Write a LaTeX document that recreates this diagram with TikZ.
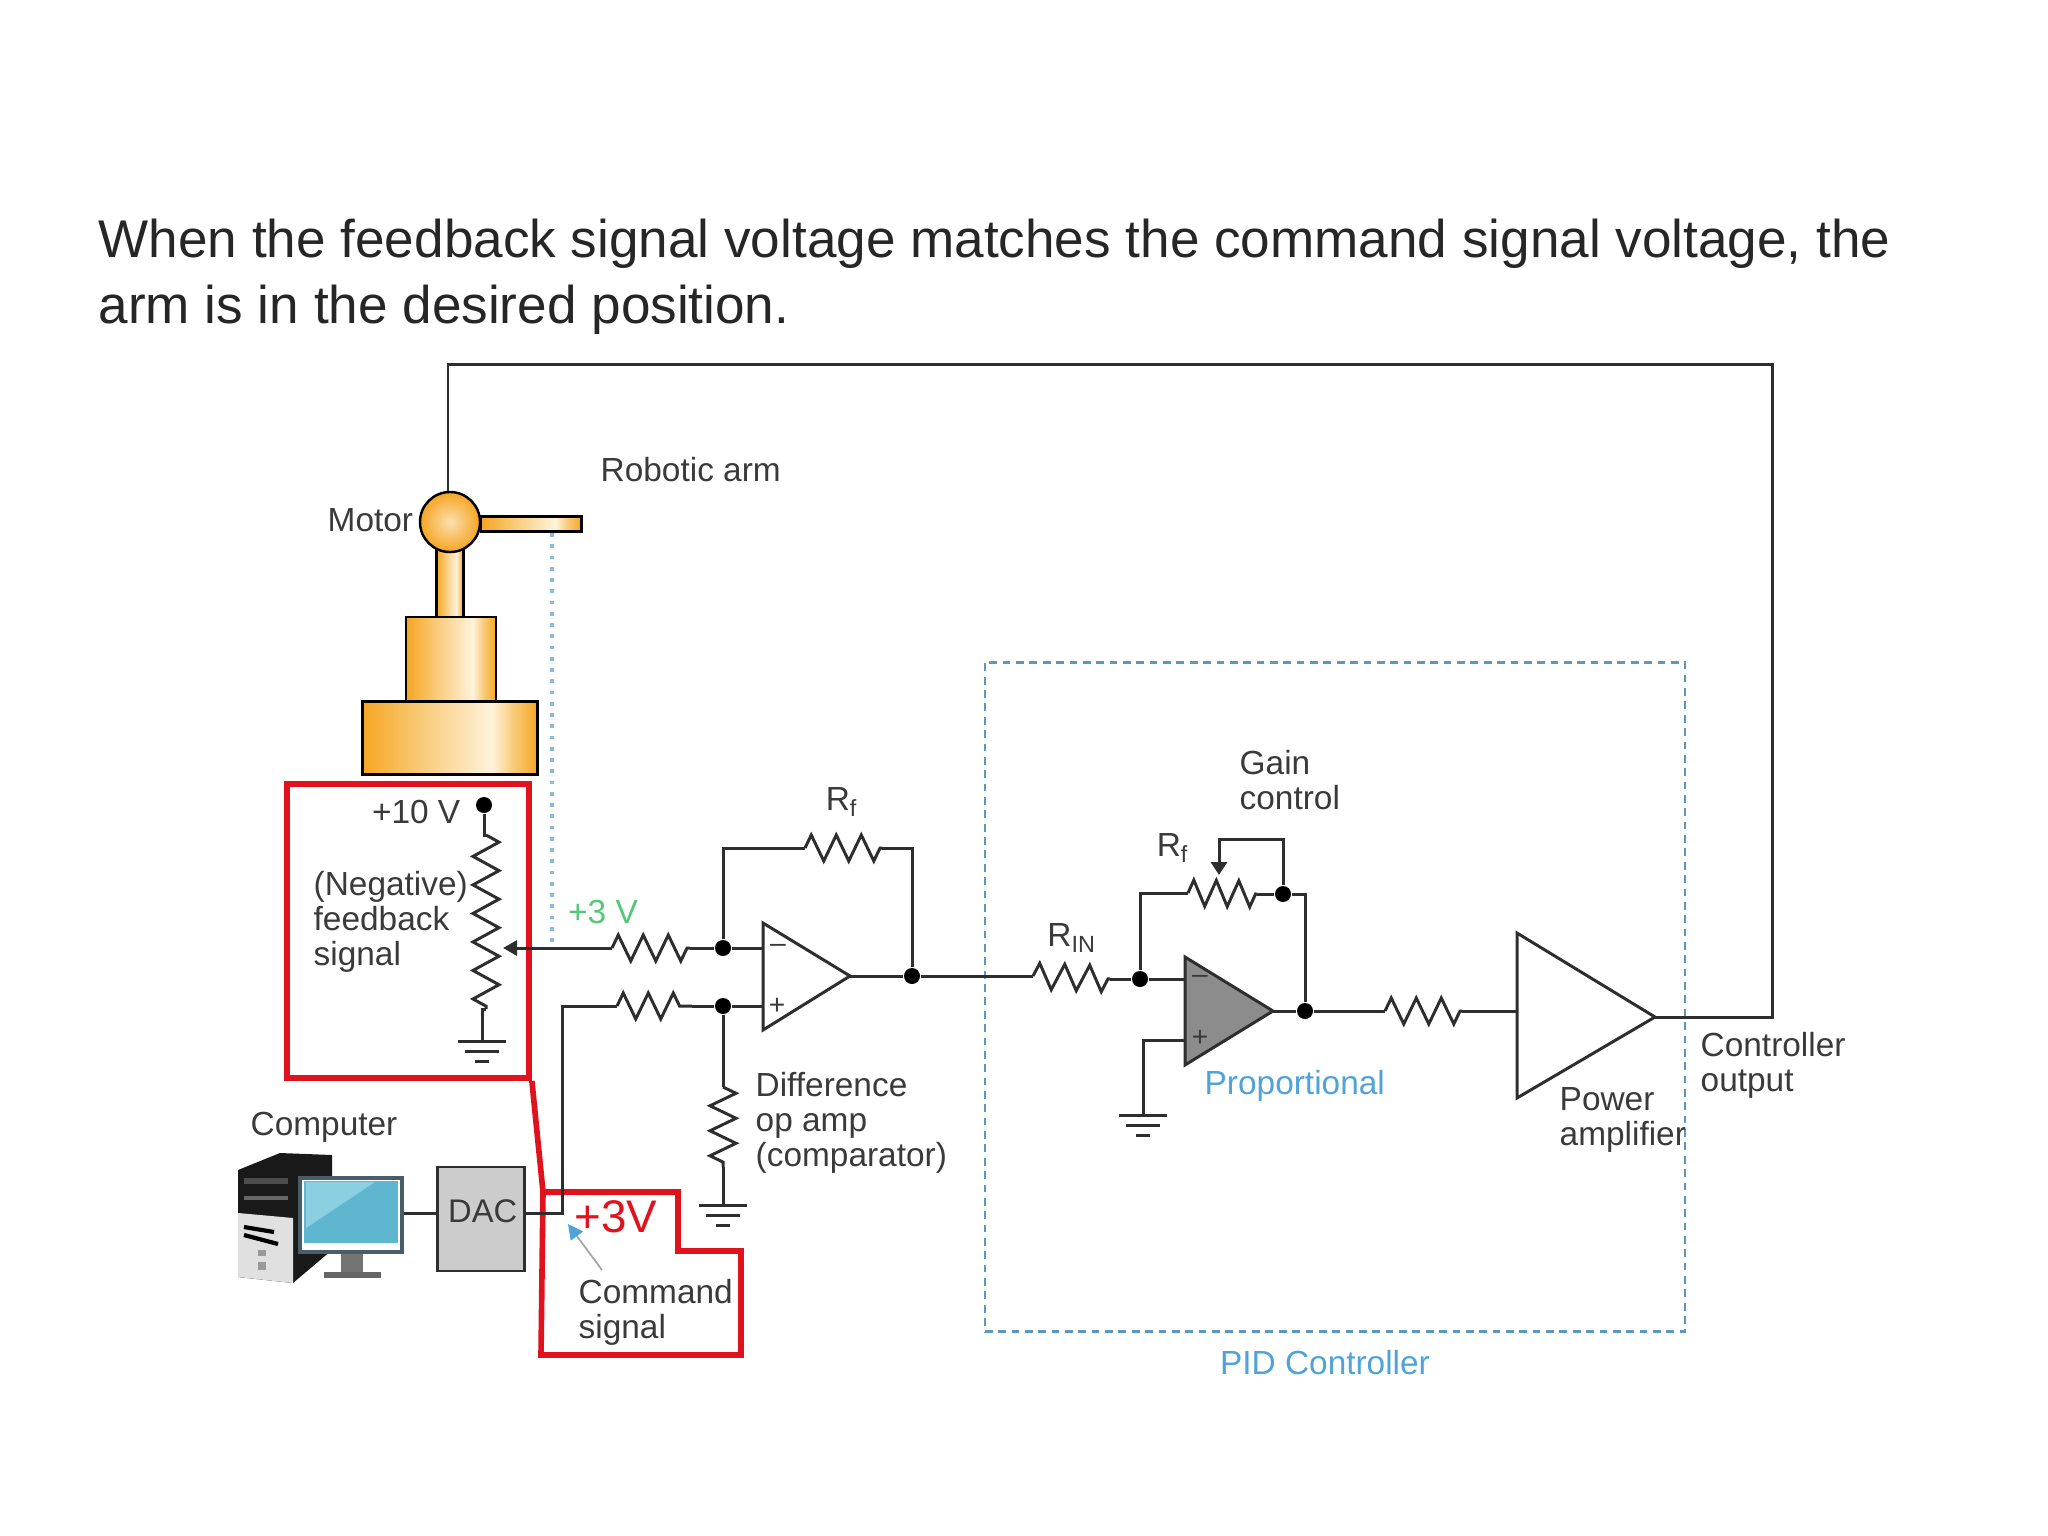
\documentclass[tikz,border=0pt]{standalone}
\usepackage{fontspec}
\setmainfont{Liberation Sans}
\usetikzlibrary{calc}
\usetikzlibrary{arrows.meta}
\usetikzlibrary{decorations.pathmorphing}
\definecolor{textgrey}{HTML}{3A3A3A}
\definecolor{wiregrey}{HTML}{2E2E2E}
\definecolor{pidblue}{HTML}{4FA3D8}
\definecolor{dashblue}{HTML}{5B98BC}
\definecolor{dotblue}{HTML}{8FB8D6}
\definecolor{voltgreen}{HTML}{55C878}
\definecolor{markred}{HTML}{E0121E}
\definecolor{metalorange}{HTML}{F6A623}
\definecolor{metalmid}{HTML}{F9CB7A}
\definecolor{metallight}{HTML}{FFF3DC}
\definecolor{screenblue}{HTML}{5FB6CF}
\definecolor{screenpale}{HTML}{8AD0E0}
\pgfdeclarehorizontalshading{metalshade}{100bp}{color(0bp)=(metalorange); color(25bp)=(metalorange); color(42bp)=(metalmid); color(62bp)=(metallight); color(68bp)=(metalmid); color(75bp)=(metalorange); color(100bp)=(metalorange)}
\tikzstyle{wire}=[draw=wiregrey, line width=0.85pt]
\tikzstyle{resistor}=[wire, decorate, decoration={zigzag, segment length=0.25cm, amplitude=0.13cm}]
\tikzstyle{potresistor}=[wire, decorate, decoration={zigzag, segment length=0.285cm, amplitude=0.13cm}]
\tikzstyle{junction}=[circle, fill=black, inner sep=0, minimum size=1.6mm]
\tikzstyle{metalpart}=[rectangle, draw=black, line width=0.7pt, shading=metalshade, inner sep=0]
\tikzstyle{label}=[text=textgrey, align=left, inner sep=0, font=\fontsize{9.5}{10}\selectfont]
\tikzstyle{redmark}=[draw=markred, line width=1.6pt]
\tikzstyle{ampshape}=[wire, line join=miter, fill=white]
\newcommand{\groundsym}[1]{
    \draw[wire] ($(#1) + (-24, 0)$) -- ($(#1) + (24, 0)$);
    \draw[wire] ($(#1) + (-17, 10)$) -- ($(#1) + (17, 10)$);
    \draw[wire] ($(#1) + (-7, 20)$) -- ($(#1) + (7, 20)$);
}
\begin{document}
\begin{tikzpicture}[x=0.01cm, y=-0.01cm]
    \useasboundingbox (0, 0) rectangle (2048, 1536);

    \node[text=black!85, align=left, inner sep=0, anchor=west, font=\fontsize{15.1}{18.8}\selectfont] at (98, 277) (title) {When the feedback signal voltage matches the command signal voltage, the\\arm is in the desired position.};

    % Robot
    \node[label, anchor=west] at (600, 470) (armLabel) {Robotic arm};
    \node[label, anchor=west] at (327, 520) (motorLabel) {Motor};
    \node[metalpart, minimum width=1.0cm, minimum height=0.15cm, anchor=west] at (480, 524) (arm) {};
    \node[metalpart, minimum width=0.27cm, minimum height=0.9cm] at (450, 575) (post) {};
    \node[metalpart, minimum width=0.9cm, minimum height=0.84cm] at (451, 659) (pedestal) {};
    \node[metalpart, minimum width=1.75cm, minimum height=0.73cm] at (450, 738) (base) {};
    \node[circle, draw=black, line width=0.7pt, inner color=metalmid!60!white, outer color=metalorange, inner sep=0, minimum size=0.6cm] at (450, 522) (motor) {};

    % Boxes
    \node[draw=dashblue, dash pattern=on 2.2pt off 1.6pt, line width=0.7pt, minimum width=7cm, minimum height=6.69cm, inner sep=0] at (1335, 997) (pidBox) {};
    \node[text=pidblue, inner sep=0, font=\fontsize{9.5}{10}\selectfont] at (1325, 1363) (pidLabel) {PID Controller};
    \node[redmark, minimum width=2.42cm, minimum height=2.94cm, inner sep=0] at (408, 931) (feedbackBox) {};
    \coordinate (cmdTop) at (543, 1192);
    \coordinate (cmdStep) at (678, 1251);
    \coordinate (cmdRight) at (741, 1355);
    \draw[redmark, line join=miter] (feedbackBox.south east) -- (cmdTop) -| (cmdStep) -| (cmdRight) -- (541, 1355) -- (cmdTop);

    % Potentiometer
    \node[junction] at (484, 805) (supplyDot) {};
    \node[label, anchor=east] at (461, 812) (supplyLabel) {+10 V};
    \node[label, anchor=west] at (313, 922) (feedbackLabel) {(Negative)\\feedback\\signal};
    \coordinate (potTop) at (486, 835);
    \coordinate (potBottom) at (486, 1009);
    \coordinate (potGround) at (482, 1041);
    \coordinate (potWiper) at (503, 948);
    \draw[wire] (supplyDot) |- (potTop);
    \draw[potresistor] (potTop) -- (potBottom);
    \draw[wire] (potBottom) -| (potGround);
    \groundsym{potGround}

    % Difference amp
    \coordinate (ampATop) at (763, 923);
    \coordinate (ampABottom) at (763, 1030);
    \coordinate (ampATip) at (850, 976);
    \draw[ampshape] (ampATop) -- (ampATip) -- (ampABottom) -- cycle;
    \node[text=textgrey, inner sep=0, font=\fontsize{8}{8}\selectfont] at (778, 948) (ampAMinus) {--};
    \node[text=textgrey, inner sep=0, font=\fontsize{8}{8}\selectfont] at (777, 1006) (ampAPlus) {+};
    \node[junction] at (723, 948) (minusDot) {};
    \node[junction] at (723, 1006) (plusDot) {};
    \node[junction] at (912, 976) (ampAOut) {};
    \node[label, anchor=west] at (755, 1123) (diffLabel) {Difference\\op amp\\(comparator)};
    \node[label] at (842, 802) (rfALabel) {R\textsubscript{f}};
    \node[text=voltgreen, inner sep=0, font=\fontsize{9.5}{10}\selectfont] at (603, 912) (voltLabel) {+3 V};

    % Inputs
    \coordinate (rOneL) at (612, 948);
    \coordinate (rOneR) at (690, 948);
    \coordinate (rTwoL) at (617, 1006);
    \coordinate (rTwoR) at (692, 1006);
    \coordinate (rfAL) at (805, 848);
    \coordinate (rfAR) at (882, 848);
    \coordinate (rGndT) at (723, 1087);
    \coordinate (rGndB) at (723, 1167);
    \coordinate (gndA) at (723, 1205);
    \draw[resistor] (rOneL) -- (rOneR);
    \draw[resistor] (rTwoL) -- (rTwoR);
    \draw[resistor] (rfAL) -- (rfAR);
    \draw[resistor] (rGndT) -- (rGndB);
    \groundsym{gndA}
    \draw[wire] (minusDot) |- (rfAL);
    \draw[wire] (rfAR) -| (ampAOut);
    \draw[wire] (rOneR) -- (minusDot) -- (minusDot -| ampATop);
    \draw[wire] (rTwoR) -- (plusDot) -- (plusDot -| ampATop);
    \draw[wire] (plusDot) -- (rGndT);
    \draw[wire] (rGndB) -- (gndA);
    \draw[wire] (ampATip) -- (ampAOut);

    % Proportional stage
    \coordinate (ampBTop) at (1185, 957);
    \coordinate (ampBBottom) at (1185, 1065);
    \coordinate (ampBTip) at (1273, 1011);
    \draw[ampshape, fill=black!45] (ampBTop) -- (ampBTip) -- (ampBBottom) -- cycle;
    \node[text=textgrey, inner sep=0, font=\fontsize{8}{8}\selectfont] at (1200, 979) (ampBMinus) {--};
    \node[text=textgrey, inner sep=0, font=\fontsize{8}{8}\selectfont] at (1200, 1038) (ampBPlus) {+};
    \node[junction] at (1140, 979) (rinDot) {};
    \node[junction] at (1283, 894) (gainDot) {};
    \node[junction] at (1305, 1011) (ampBOut) {};
    \node[label] at (1072, 938) (rinLabel) {R\textsubscript{IN}};
    \node[label] at (1173, 848) (rfBLabel) {R\textsubscript{f}};
    \node[label, anchor=west] at (1239, 780) (gainLabel) {Gain\\control};
    \node[text=pidblue, inner sep=0, anchor=west, font=\fontsize{9.5}{10}\selectfont] at (1204, 1086) (propLabel) {Proportional};
    \coordinate (rinL) at (1033, 976);
    \coordinate (rinR) at (1110, 979);
    \coordinate (rfBL) at (1188, 893);
    \coordinate (rfBR) at (1257, 894);
    \coordinate (gainTop) at (1219, 839);
    \coordinate (gainTip) at (1219, 875);
    \coordinate (gndB) at (1143, 1115);
    \draw[resistor] (rinL) -- (rinR);
    \draw[resistor, decoration={segment length=0.225cm}] (rfBL) -- (rfBR);
    \groundsym{gndB}
    \draw[wire] (ampAOut) -- (rinL);
    \draw[wire] (rinR) -- (rinDot) -- (rinDot -| ampBTop);
    \draw[wire] (rinDot) |- (rfBL);
    \draw[wire] (rfBR) -- (gainDot) -| (ampBOut);
    \draw[wire] (ampBTip) -- (ampBOut);
    \draw[wire] (gndB) |- (ampBBottom |- 0, 1040);

    % Power amp and output
    \coordinate (powerTop) at (1517, 933);
    \coordinate (powerBottom) at (1517, 1098);
    \coordinate (powerTip) at (1655, 1017);
    \draw[ampshape, fill=none] (powerTop) -- (powerTip) -- (powerBottom) -- cycle;
    \node[label, anchor=west] at (1559, 1120) (powerLabel) {Power\\amplifier};
    \node[label, anchor=west] at (1700, 1065) (outputLabel) {Controller\\output};
    \coordinate (rOutL) at (1385, 1011);
    \coordinate (rOutR) at (1462, 1011);
    \coordinate (outCorner) at (1772, 1017);
    \coordinate (feedbackCorner) at (1772, 364);
    \draw[resistor] (rOutL) -- (rOutR);
    \draw[wire] (ampBOut) -- (rOutL);
    \draw[wire] (rOutR) -- (powerTop |- rOutR);
    \draw[wire] (powerTip) -- (outCorner) -- (feedbackCorner) -| (448, 491);

    % Computer
    \node[label] at (324, 1127) (computerLabel) {Computer};
    \fill[black!90] (238, 1170) -- (280, 1153) -- (332, 1155) -- (332, 1250) -- (293, 1283) -- (238, 1277) -- cycle;
    \fill[black!12] (238, 1213) -- (293, 1218) -- (293, 1283) -- (238, 1277) -- cycle;
    \fill[black!70] (244, 1178) rectangle (288, 1184);
    \fill[black!60] (244, 1196) rectangle (288, 1200);
    \draw[black, line width=1.2pt] (244, 1227) -- (274, 1232);
    \draw[black, line width=1.2pt] (244, 1235) -- (278, 1244);
    \fill[black!40] (258, 1250) rectangle (266, 1256);
    \fill[black!40] (258, 1262) rectangle (266, 1270);
    \fill[black!55] (341, 1252) rectangle (363, 1272);
    \fill[black!60] (324, 1272) rectangle (381, 1278);
    \node[draw=black!45!cyan!60!black, line width=1pt, fill=white, minimum width=1.02cm, minimum height=0.74cm, inner sep=0] at (351, 1215) (monitor) {};
    \node[fill=screenblue, minimum width=0.93cm, minimum height=0.62cm, inner sep=0] at (351, 1212) (screen) {};
    \fill[screenpale] (306, 1182) -- (375, 1182) -- (306, 1228) -- cycle;

    % DAC
    \node[draw=wiregrey, line width=0.75pt, fill=black!20, text=textgrey, minimum width=0.87cm, minimum height=1.04cm, inner sep=0, font=\fontsize{9.3}{10}\selectfont] at (481, 1219) (dac) {\raisebox{4.4pt}{\hspace{1pt}DAC}};
    \coordinate (dacCorner) at (562, 1213);
    \draw[wire] (monitor.east |- dacCorner) -- (dac.west |- dacCorner);
    \draw[wire] (dac.east |- dacCorner) -- (dacCorner) |- (rTwoL);

    \node[text=markred, inner sep=0, anchor=west, font=\fontsize{13}{14}\selectfont] at (574, 1217) (commandVolt) {+3V};
    \node[label, anchor=west] at (578, 1312) (commandLabel) {Command\\signal};
    \coordinate (pointerStart) at (602, 1270);
    \coordinate (pointerTip) at (568, 1224);
    \draw[black!35, line width=0.5pt, -{Triangle[color=pidblue, length=1.5mm, width=1.5mm]}] (pointerStart) -- (pointerTip);

    % Arrows
    \draw[wire, -{Triangle[length=1.4mm, width=1.5mm]}] (rOneL) -- (potWiper);
    \draw[wire, -{Triangle[length=1.3mm, width=1.6mm]}] (gainDot) |- (gainTop) -- (gainTip);
    \draw[draw=dotblue, line width=1.2pt, dash pattern=on 1.1pt off 2.1pt] (552, 533) -- (552, 948);
\end{tikzpicture}
\end{document}
